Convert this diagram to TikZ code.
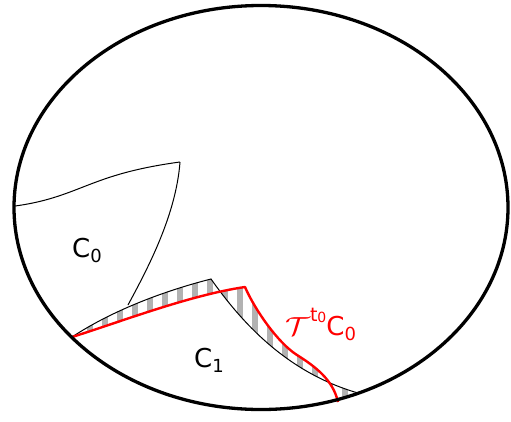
\documentclass[tikz,border=0pt]{standalone}
\usepackage{fontspec}
\setmainfont{DejaVu Sans}
\newcommand\lowsub[1]{\raisebox{-0.22em}{\fontsize{18}{18}\selectfont #1}}
\newcommand\highsup[2]{\raisebox{14pt}{\fontsize{19}{19}\selectfont #1\raisebox{-1pt}{\fontsize{14}{14}\selectfont #2}}}
\begin{document}
\begin{tikzpicture}[x=1pt,y=-1pt,
  thinline/.style={black,line width=1pt},
  redline/.style={red,line width=2.4pt,line join=round},
  rim/.style={black,line width=3.3pt},
  lab/.style={anchor=base west,inner sep=0pt,font=\fontsize{26}{26}\selectfont},
  stripe/.style={fill=black!30,draw=none}]
\useasboundingbox (0,0) rectangle (511,421);
\def\blackpath{(72,337) .. controls (110,312) and (160,292) .. (211,279) .. controls (240,320) and (285,372) .. (358,393)}
\def\redpath{(72,337) .. controls (120,322) and (190,295) .. (245,287) .. controls (255,310) and (278,343) .. (297,355) .. controls (316,367) and (333,380) .. (338,402)}
% hatching between the two curves
\begin{scope}[even odd rule]
  \clip (261,207.5) ellipse [x radius=247, y radius=202];
  \clip \blackpath -- (370,430) -- (60,430) -- cycle
     \redpath -- (340,430) -- (60,430) -- cycle;
  \foreach \i in {0,...,20}
    \fill[stripe] ({71.7+15*\i},250) rectangle +(6.3,180);
\end{scope}
% C0 region boundaries
\draw[thinline] (15,206) .. controls (60,200) and (80,186) .. (117,175) .. controls (140,168) and (165,164) .. (180,162);
\draw[thinline] (180,162) .. controls (176,215) and (148,268) .. (128,305);
% C1 boundary
\draw[thinline] \blackpath;
% transported curve
\draw[redline] \redpath;
% outer ellipse
\draw[rim] (261,207.5) ellipse [x radius=247, y radius=202];
% labels
\node[lab] (c0) at (72,257) {C\lowsub{0}};
\node[lab] (c1) at (194,367) {C\lowsub{1}};
\node[lab,text=red] (tc0) at (285,335) {\scalebox{1.25}[1.05]{$\mathcal{T}$}\highsup{t}{0}C\lowsub{0}};
\end{tikzpicture}
\end{document}
